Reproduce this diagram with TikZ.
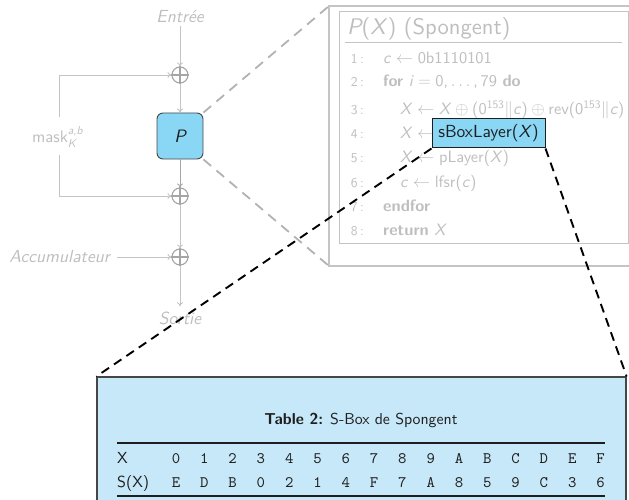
\documentclass[tikz,border=0pt]{standalone}
\usepackage{fontspec}
\setsansfont{lmsans10}[Extension=.otf,UprightFont=*-regular,BoldFont=*-bold,
  ItalicFont=*-oblique,BoldItalicFont=*-boldoblique]
\setmonofont{lmmono10}[Extension=.otf,UprightFont=*-regular]
\usetikzlibrary{arrows.meta,backgrounds}
\renewcommand\familydefault{\sfdefault}
\definecolor{lightg}{RGB}{190,190,190}
\definecolor{lineg}{RGB}{196,196,196}
\definecolor{circg}{RGB}{165,165,165}
\definecolor{dashg}{RGB}{178,178,178}
\definecolor{darkg}{RGB}{70,70,70}
\definecolor{pblue}{RGB}{138,214,245}
\definecolor{tblue}{RGB}{199,232,248}
\definecolor{inktxt}{RGB}{30,30,30}
\newcommand\vr[1]{\textit{#1}}
\newcommand\fs[1]{\fontsize{#1}{#1}\selectfont}
% math-like spacing around relations and binary operators
\newcommand\rel[1]{\hspace{0.2778em}$#1$\hspace{0.2778em}}
\newcommand\bin[1]{\hspace{0.2222em}$#1$\hspace{0.2222em}}
\begin{document}
\begin{tikzpicture}[x=1pt,y=-1pt,
  >={To[length=4pt,width=6pt]},
  flow/.style={draw=lineg,line width=0.9pt},
  lbl/.style={text=lightg,font=\fs{17.5},inner sep=3pt},
  xor/.style={circle,draw=circg,line width=1.1pt,minimum size=16pt,inner sep=0pt},
  pbox/.style={draw=darkg,fill=pblue,rounded corners=6pt,line width=0.9pt,
    minimum width=46pt,minimum height=46pt,font=\fs{18},text=inktxt},
  algline/.style={text=lightg,font=\fs{16.4},anchor=base west,inner sep=0pt},
  algnum/.style={text=lightg,font=\fs{13.5},anchor=base east,inner sep=0pt},
  zoomg/.style={draw=dashg,line width=1.8pt,dash pattern=on 10pt off 7pt},
  zoomk/.style={draw=black,line width=1.9pt,dash pattern=on 9pt off 6pt},
  hexcell/.style={text=inktxt,font=\ttfamily\fs{16},anchor=base,inner sep=0pt},
  rowlbl/.style={text=inktxt,font=\fs{16},anchor=base west,inner sep=0pt}]
\useasboundingbox (0,0) rectangle (629,500);
\clip (0,0) rectangle (629,500);

% ---- mode of operation: data path ----
\node[lbl,anchor=base] (entree) at (180,23) {\itshape Entrée};
\node[xor] (x1) at (180,75) {};
\node[pbox] (P) at (180,136) {\itshape P};
\node[xor] (x2) at (180,196) {};
\node[xor] (x3) at (180,257) {};
\node[lbl,anchor=base,inner sep=5pt] (sortie) at (180,324) {\itshape Sortie};
\foreach \c in {x1,x2,x3}
  \draw[draw=circg,line width=1.1pt] (\c.north) -- (\c.south) (\c.west) -- (\c.east);

\node[lbl,font=\fs{16.7}] (mask) at (54,137) {mask\rlap{\raisebox{1.05ex}{\fs{11.5}\itshape a,b}}\raisebox{-0.6ex}{\fs{11.5}\itshape K}};
\node[lbl,anchor=east,inner xsep=7pt] (acc) at (117,257) {\itshape Accumulateur};
\coordinate (mtop) at (59,117);
\coordinate (mbot) at (59,155);

\draw[flow,->] (entree.south) -- (x1.north);
\draw[flow,->] (x1.south) -- (P.north);
\draw[draw=circg,line width=0.9pt,->] (P.south) -- (x2.north);
\draw[flow,->] (x2.south) -- (x3.north);
\draw[flow,->] (x3.south) -- (sortie.north);
\draw[flow,->] (mtop) |- (x1.west);
\draw[flow,->] (mbot) |- (x2.west);
\draw[flow,->] (acc.east) -- (x3.west);

% ---- algorithm of the permutation ----
\coordinate (ftop) at (329,6);
\coordinate (fbot) at (329,266);
\draw[draw=lineg,line width=1.2pt] (660,6) -- (ftop) -- (fbot) -- (660,266);
\draw[draw=lineg,line width=1pt] (339,12) rectangle (628,243);
\node[algline,font=\fs{22.6}] (title) at (347,35) {{\itshape P}(\vr{X}) (Spongent)};
\draw[draw=lineg,line width=1pt] (345,43) -- (622,43);

\node[algnum] (n1) at (364,64) {1\hspace{2.5pt}:};
\node[algnum] (n2) at (364,87) {2\hspace{2.5pt}:};
\node[algnum] (n3) at (364,115) {3\hspace{2.5pt}:};
\node[algnum] (n4) at (364,139) {4\hspace{2.5pt}:};
\node[algnum] (n5) at (364,163) {5\hspace{2.5pt}:};
\node[algnum] (n6) at (364,187) {6\hspace{2.5pt}:};
\node[algnum] (n7) at (364,211) {7\hspace{2.5pt}:};
\node[algnum] (n8) at (364,235) {8\hspace{2.5pt}:};

\node[algline] (l1) at (383,64) {\vr{c}\rel{\leftarrow}0b1110101};
\node[algline] (l2) at (383,87) {\textbf{for} \vr{i}\rel{=}0,\,$\ldots$\,,\,79 \textbf{do}};
\node[algline] (l3) at (400,115) {\vr{X}\rel{\leftarrow}\vr{X}\bin{\oplus}(0\textsuperscript{153}$\|$\vr{c})\bin{\oplus}rev(0\textsuperscript{153}$\|$\vr{c})};
\node[algline] (l4) at (400,139) {\vr{X}\rel{\leftarrow}};
\node[algline] (l5) at (400,163) {\vr{X}\rel{\leftarrow}pLayer(\vr{X})};
\node[algline] (l6) at (400,187) {\vr{c}\rel{\leftarrow}lfsr(\vr{c})};
\node[algline] (l7) at (383,211) {\textbf{endfor}};
\node[algline] (l8) at (383,235) {\textbf{return} \vr{X}};

\node[draw=inktxt,fill=pblue,line width=1pt,minimum width=113pt,minimum height=29pt,
  inner sep=0pt,font=\fs{17.5},text=inktxt] (sbox) at (488.5,133.5) {sBoxLayer(\vr{X})};

% ---- S-box table ----
\node[draw=darkg,fill=tblue,line width=1.2pt,minimum width=529pt,minimum height=170pt,
  inner sep=0pt] (tbl) at (361.5,462) {};
\node[text=inktxt,font=\fs{15.8}] (cap) at (361,420) {\textbf{Table 2:} S-Box de Spongent};
\draw[draw=inktxt,line width=1.2pt] (117,443) -- (605,443);
\draw[draw=inktxt,line width=1.2pt] (117,496) -- (605,496);
\node[rowlbl] (rx) at (117,463.5) {X};
\node[rowlbl] (rs) at (117,487.5) {S(X)};
\foreach \a/\b [count=\i from 0] in {0/E,1/D,2/B,3/0,4/2,5/1,6/4,7/F,8/7,9/A,A/8,B/5,C/9,D/C,E/3,F/6}{
  \node[hexcell] (hx\i) at ({176+28.3*\i},463.5) {\a};
  \node[hexcell] (hs\i) at ({176+28.3*\i},487.5) {\b};
}

% ---- zoom connectors ----
\begin{scope}[on background layer]
  \draw[zoomg] (P.north east) -- (ftop);
  \draw[zoomg] (P.south east) -- (fbot);
\end{scope}
\draw[zoomk] (sbox.south west) -- (tbl.north west);
\draw[zoomk] (sbox.south east) -- (tbl.north east);
\end{tikzpicture}
\end{document}
